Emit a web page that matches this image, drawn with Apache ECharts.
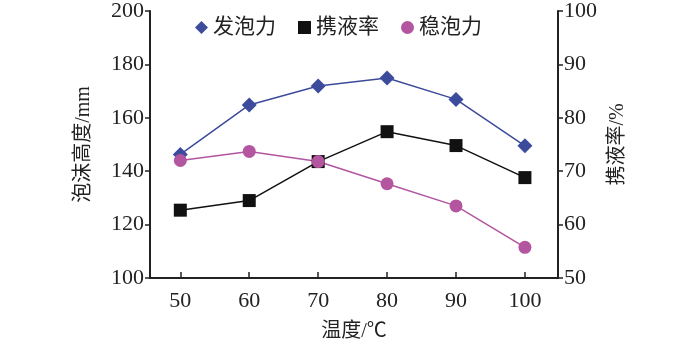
<!DOCTYPE html>
<html><head><meta charset="utf-8">
<script src="https://cdn.jsdelivr.net/npm/echarts@6/dist/echarts.min.js"></script>
<style>html,body{margin:0;padding:0;background:#fff}#c{width:700px;height:356px}</style>
</head><body><div id="c"></div>
<script>
const temps = [50, 60, 70, 80, 90, 100];
const foaming = [146.3, 164.8, 171.9, 174.9, 166.9, 149.5];
const liquidCarry = [62.7, 64.5, 71.8, 77.4, 74.8, 68.8];
const foamStab = [144.0, 147.4, 143.6, 135.3, 127.0, 111.5];
const leftTicks = [100, 120, 140, 160, 180, 200];
const rightTicks = [50, 60, 70, 80, 90, 100];
const names = ['发泡力', '携液率', '稳泡力'];

const serif = 'Liberation Serif';
const cjk = 'Liberation Serif, Noto Sans CJK SC';
const chart = echarts.init(document.getElementById('c'));
const pair = arr => temps.map((t, i) => [t, arr[i]]);
chart.setOption({
  animation: false,
  grid: {left: 150, right: 142, top: 8, bottom: 78},
  legend: {
    top: 12, left: 190, itemGap: 22, itemWidth: 13, itemHeight: 13,
    textStyle: {fontFamily: cjk, fontSize: 21, color: '#222'},
    data: [{name: names[0], icon: 'diamond'}, {name: names[1], icon: 'rect'}, {name: names[2], icon: 'circle'}]
  },
  xAxis: {
    type: 'value', min: 45.6, max: 104.8,
    name: '温度/℃', nameLocation: 'middle', nameGap: 44,
    nameTextStyle: {fontFamily: cjk, fontSize: 20, color: '#222'},
    axisLine: {lineStyle: {color: '#222', width: 2}},
    axisTick: {inside: true, length: 6, customValues: temps, lineStyle: {color: '#222', width: 1.5}},
    axisLabel: {customValues: temps, margin: 12, fontFamily: serif, fontSize: 22, color: '#222'},
    splitLine: {show: false}
  },
  yAxis: [{
    type: 'value', min: 100, max: 200, interval: 20, position: 'left',
    name: '泡沫高度/mm', nameLocation: 'middle', nameGap: 56, nameRotate: 90,
    nameTextStyle: {fontFamily: cjk, fontSize: 20, color: '#222'},
    axisLine: {show: true, lineStyle: {color: '#222', width: 2}},
    axisTick: {show: true, length: 5, lineStyle: {color: '#222', width: 1.5}},
    axisLabel: {margin: 6, fontFamily: serif, fontSize: 22, color: '#222', customValues: leftTicks},
    splitLine: {show: false}
  }, {
    type: 'value', min: 50, max: 100, interval: 10, position: 'right',
    name: '携液率/%', nameLocation: 'middle', nameGap: 50, nameRotate: 90,
    nameTextStyle: {fontFamily: cjk, fontSize: 20, color: '#222'},
    axisLine: {show: true, lineStyle: {color: '#222', width: 2}},
    axisTick: {show: true, length: 5, lineStyle: {color: '#222', width: 1.5}},
    axisLabel: {margin: 6, fontFamily: serif, fontSize: 22, color: '#222', customValues: rightTicks},
    splitLine: {show: false}
  }],
  series: [
    {name: names[0], type: 'line', yAxisIndex: 0, data: pair(foaming), symbol: 'diamond', symbolSize: 15,
     itemStyle: {color: '#3c4b9c'}, lineStyle: {color: '#3c4b9c', width: 1.5}},
    {name: names[1], type: 'line', yAxisIndex: 1, data: pair(liquidCarry), symbol: 'rect', symbolSize: 13,
     itemStyle: {color: '#111'}, lineStyle: {color: '#111', width: 1.5}},
    {name: names[2], type: 'line', yAxisIndex: 0, data: pair(foamStab), symbol: 'circle', symbolSize: 13,
     itemStyle: {color: '#b3559f'}, lineStyle: {color: '#b3559f', width: 1.5}}
  ]
});
</script></body></html>
